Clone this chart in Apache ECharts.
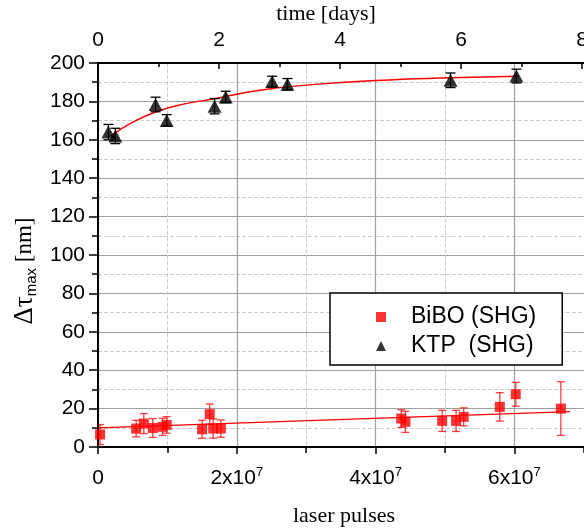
<!DOCTYPE html>
<html>
<head>
<meta charset="utf-8">
<script src="https://cdn.jsdelivr.net/npm/echarts@6/dist/echarts.min.js"></script>
<style>
html, body { margin: 0; padding: 0; background: #fff; }
#chart { width: 584px; height: 531px; }
</style>
</head>
<body>
<div id="chart"></div>
<script>
// BiBO (SHG) points: laser pulses, shift [nm], error
var biboPulses = [3e5, 5.5e6, 6.6e6, 7.9e6, 9.3e6, 9.9e6, 1.50e7, 1.61e7, 1.66e7, 1.77e7, 4.37e7, 4.43e7, 4.96e7, 5.16e7, 5.27e7, 5.79e7, 6.02e7, 6.67e7];
var biboShift  = [6.5, 9.6, 12.2, 9.9, 10.5, 11.5, 9.2, 17.1, 9.6, 9.6, 14.8, 13.1, 13.6, 13.6, 15.7, 20.9, 27.5, 20.0];
var biboErr    = [5.2, 4.3, 5.2, 4.9, 4.5, 4.3, 4.7, 5.3, 5.0, 4.5, 4.6, 5.5, 5.5, 5.5, 4.7, 7.4, 6.2, 14];

// KTP (SHG) points
var ktpPulses = [1.5e6, 2.5e6, 8.3e6, 9.9e6, 1.68e7, 1.84e7, 2.51e7, 2.73e7, 5.08e7, 6.03e7];
var ktpShift  = [164, 162, 178.4, 170.1, 177.5, 182.3, 190.3, 188.9, 191, 193.2];
var ktpErr    = [4, 4, 3.8, 3, 4, 3, 2.8, 3, 3.8, 3.6];

// fit curves
var biboFitX = [0, 6.8e7];
var biboFitY = [10, 18.4];
var ktpFitX = [1.8e6, 5e6, 8.4e6, 1.2e7, 1.68e7, 2.17e7, 2.5e7, 3e7, 4e7, 5.08e7, 6.05e7];
var ktpFitY = [161.9, 169.2, 174.6, 178.3, 181.4, 184.9, 186.6, 188.5, 190.9, 192.3, 193.1];

var zip = function (a, b, c) {
    return a.map(function (v, i) { return c ? [v, b[i], c[i]] : [v, b[i]]; });
};

var sans = 'Liberation Sans';
var serif = 'Liberation Serif';

function errorBars(color, capW) {
    return function (params, api) {
        var x = api.value(0), y = api.value(1), e = api.value(2);
        var hi = api.coord([x, y + e]);
        var lo = api.coord([x, y - e]);
        var st = { stroke: color, lineWidth: 1.3 };
        return {
            type: 'group',
            children: [
                { type: 'line', shape: { x1: hi[0], y1: hi[1], x2: lo[0], y2: lo[1] }, style: st },
                { type: 'line', shape: { x1: hi[0] - capW, y1: hi[1], x2: hi[0] + capW, y2: hi[1] }, style: st },
                { type: 'line', shape: { x1: lo[0] - capW, y1: lo[1], x2: lo[0] + capW, y2: lo[1] }, style: st }
            ]
        };
    };
}

var chart = echarts.init(document.getElementById('chart'));
var option = {
    animation: false,
    backgroundColor: '#fff',
    grid: { left: 98, top: 63, bottom: 84, width: 492, outerBoundsMode: 'none', containLabel: false },
    legend: {
        orient: 'vertical',
        left: 330,
        top: 293,
        padding: [12, 26, 7, 46],
        itemGap: 5,
        itemWidth: 10,
        itemHeight: 10,
        borderColor: '#000',
        borderWidth: 1.5,
        backgroundColor: '#fff',
        textStyle: { fontFamily: sans, fontSize: 23, color: '#000', lineHeight: 24, padding: [0, 0, 0, 20] },
        data: [
            { name: 'BiBO (SHG)', icon: 'rect' },
            { name: 'KTP  (SHG)', icon: 'triangle' }
        ]
    },
    xAxis: [
        {
            type: 'value',
            min: 0,
            max: 7.09e7,
            interval: 2e7,
            name: 'laser pulses',
            nameLocation: 'middle',
            nameGap: 58,
            nameTextStyle: { fontFamily: serif, fontSize: 22, color: '#000' },
            axisLine: { onZero: false, lineStyle: { color: '#000', width: 2 } },
            axisTick: { length: 7, lineStyle: { color: '#000', width: 1.5 } },
            minorTick: { show: true, splitNumber: 2, length: 6, lineStyle: { color: '#000', width: 1.5 } },
            splitLine: { show: true, lineStyle: { color: '#a0a0a0', width: 1.2 } },
            minorSplitLine: { show: true, lineStyle: { color: '#cccccc', type: 'dashed', width: 1 } },
            axisLabel: {
                showMaxLabel: false,
                margin: 19,
                formatter: function (v) {
                    if (v === 0) return '{n|0}';
                    return '{n|' + Math.round(v / 1e7) + 'x10}{s|7}';
                },
                rich: {
                    n: { fontFamily: sans, fontSize: 21, color: '#000', lineHeight: 24 },
                    s: { fontFamily: sans, fontSize: 13, color: '#000', verticalAlign: 'top', lineHeight: 24 }
                }
            }
        },
        {
            type: 'value',
            position: 'top',
            min: 0,
            max: 8.13,
            interval: 2,
            name: 'time [days]',
            nameLocation: 'middle',
            nameGap: 33,
            nameTextStyle: { fontFamily: serif, fontSize: 22, color: '#000', padding: [0, 36, 0, 0] },
            axisLine: { onZero: false, lineStyle: { color: '#000', width: 2 } },
            axisTick: { inside: true, length: 6, lineStyle: { color: '#000', width: 1.5 } },
            minorTick: { show: true, splitNumber: 2, length: 4, lineStyle: { color: '#000', width: 1.5 } },
            splitLine: { show: false },
            axisLabel: { showMaxLabel: false, margin: 12, fontFamily: sans, fontSize: 21, color: '#000' }
        }
    ],
    yAxis: {
        type: 'value',
        min: 0,
        max: 200,
        interval: 20,
        name: '{g|Δτ}{s|max}{d| [nm]}',
        nameLocation: 'middle',
        nameRotate: 90,
        nameGap: 58,
        nameTextStyle: {
            padding: [0, 32, 0, 0],
            rich: {
                g: { fontFamily: serif, fontSize: 27, color: '#000', lineHeight: 28 },
                d: { fontFamily: serif, fontSize: 23, color: '#000', lineHeight: 28 },
                s: { fontFamily: sans, fontSize: 15, color: '#000', verticalAlign: 'bottom', lineHeight: 28 }
            }
        },
        axisLine: { show: true, lineStyle: { color: '#000', width: 2 } },
        axisTick: { length: 9, lineStyle: { color: '#000', width: 1.5 } },
        minorTick: { show: true, splitNumber: 2, length: 6, lineStyle: { color: '#000', width: 1.5 } },
        splitLine: { show: true, lineStyle: { color: '#a0a0a0', width: 1.2 } },
        minorSplitLine: { show: true, lineStyle: { color: '#cccccc', type: 'dashed', width: 1 } },
        axisLabel: { margin: 13, fontFamily: sans, fontSize: 21, color: '#000' }
    },
    series: [
        {
            name: 'BiBO fit',
            type: 'line',
            data: zip(biboFitX, biboFitY),
            showSymbol: false,
            lineStyle: { color: '#ff0000', width: 1.2 },
            z: 2
        },
        {
            name: 'KTP fit',
            type: 'line',
            data: zip(ktpFitX, ktpFitY),
            smooth: true,
            showSymbol: false,
            lineStyle: { color: '#ff0000', width: 1.4 },
            z: 2
        },
        {
            name: 'BiBO err',
            type: 'custom',
            data: zip(biboPulses, biboShift, biboErr),
            encode: { x: 0, y: 1 },
            renderItem: errorBars('rgba(255,0,0,0.75)', 4),
            clip: true,
            z: 3
        },
        {
            name: 'KTP err',
            type: 'custom',
            data: zip(ktpPulses, ktpShift, ktpErr),
            encode: { x: 0, y: 1 },
            renderItem: errorBars('#000', 5),
            clip: true,
            z: 3
        },
        {
            name: 'BiBO (SHG)',
            type: 'scatter',
            data: zip(biboPulses, biboShift),
            symbol: 'rect',
            symbolSize: 10,
            itemStyle: { color: '#ff0000' },
            clip: true,
            z: 4
        },
        {
            name: 'KTP  (SHG)',
            type: 'scatter',
            data: zip(ktpPulses, ktpShift),
            symbol: 'triangle',
            symbolSize: [14, 13],
            itemStyle: { color: '#000' },
            clip: true,
            z: 4
        }
    ]
};
chart.setOption(option);
</script>
</body>
</html>
